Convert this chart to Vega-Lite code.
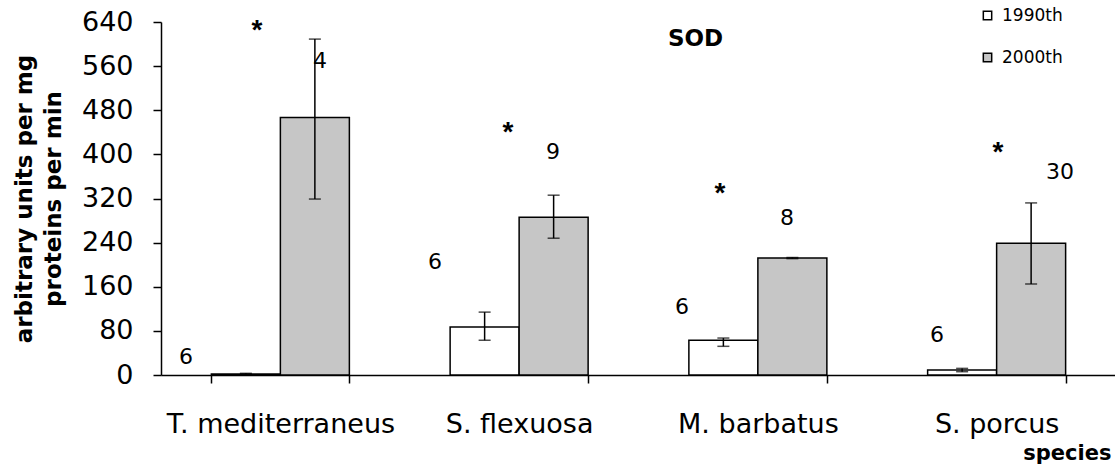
{
  "$schema": "https://vega.github.io/schema/vega-lite/v6.json",
  "autosize": "none",
  "padding": {"left": 161, "top": 22, "right": 0, "bottom": 95},
  "width": 955,
  "height": 353,
  "background": "white",
  "config": {
    "font": "DejaVu Sans",
    "view": {"stroke": null},
    "axis": {"grid": false, "domainColor": "black", "tickColor": "black", "labelColor": "black", "titleColor": "black", "domainWidth": 1.5, "tickWidth": 1.5, "labelFont": "DejaVu Sans", "titleFont": "DejaVu Sans"},
    "legend": {"labelFont": "DejaVu Sans"},
    "title": {"font": "DejaVu Sans"}
  },
  "title": {"text": "SOD", "fontSize": 23, "fontWeight": "bold", "anchor": "middle", "frame": "group", "dx": 57, "offset": -44, "color": "black"},
  "datasets": {
    "bars": [
      {"species": "T. mediterraneus", "group": "1990th", "value": 2, "lo": 1, "hi": 3},
      {"species": "T. mediterraneus", "group": "2000th", "value": 467, "lo": 319, "hi": 609},
      {"species": "S. flexuosa", "group": "1990th", "value": 87, "lo": 63, "hi": 114},
      {"species": "S. flexuosa", "group": "2000th", "value": 286, "lo": 248, "hi": 326},
      {"species": "M. barbatus", "group": "1990th", "value": 63, "lo": 52, "hi": 67},
      {"species": "M. barbatus", "group": "2000th", "value": 212, "lo": 211, "hi": 213},
      {"species": "S.  porcus", "group": "1990th", "value": 9, "lo": 6, "hi": 12},
      {"species": "S.  porcus", "group": "2000th", "value": 239, "lo": 165, "hi": 312}
    ],
    "notes": [
      {"pos": 0.105, "y": 33, "label": "6", "kind": "n"},
      {"pos": 0.666, "y": 569, "label": "4", "kind": "n"},
      {"pos": 0.402, "y": 636, "label": "*", "kind": "star"},
      {"pos": 1.148, "y": 205, "label": "6", "kind": "n"},
      {"pos": 1.642, "y": 404, "label": "9", "kind": "n"},
      {"pos": 1.453, "y": 452, "label": "*", "kind": "star"},
      {"pos": 2.182, "y": 123, "label": "6", "kind": "n"},
      {"pos": 2.622, "y": 285, "label": "8", "kind": "n"},
      {"pos": 2.341, "y": 340, "label": "*", "kind": "star"},
      {"pos": 3.25, "y": 72, "label": "6", "kind": "n"},
      {"pos": 3.765, "y": 368, "label": "30", "kind": "n"},
      {"pos": 3.506, "y": 415, "label": "*", "kind": "star"}
    ]
  },
  "layer": [
    {
      "data": {"name": "bars"},
      "layer": [
        {
          "mark": {"type": "bar", "stroke": "black", "strokeWidth": 1.5},
          "encoding": {
            "x": {"field": "species", "type": "nominal", "sort": null,
              "scale": {"paddingInner": 0.422, "paddingOuter": 0.211},
              "axis": {"title": "species", "titleFontSize": 21, "titleFontWeight": "bold", "titleAnchor": "end", "titlePadding": 0, "titleX": 950, "titleY": 67, "titleAlign": "right", "labelFontSize": 27, "labelAngle": 0, "labelLimit": 0, "tickBand": "extent", "tickSize": 8, "labelPadding": 28, "labelBaseline": "top"}},
            "xOffset": {"field": "group", "type": "nominal", "scale": {"domain": ["1990th", "2000th"], "paddingInner": 0, "paddingOuter": 0}},
            "y": {"field": "value", "type": "quantitative",
              "scale": {"domain": [0, 640], "nice": false},
              "axis": {"values": [0, 80, 160, 240, 320, 400, 480, 560, 640], "labelFontSize": 27, "tickSize": 8, "labelPadding": 20, "title": ["arbitrary units per mg", "proteins per min"], "titleFontSize": 23, "titleFontWeight": "bold", "titlePadding": 16, "titleLineHeight": 29}},
            "fill": {"field": "group", "type": "nominal",
              "scale": {"domain": ["1990th", "2000th"], "range": ["#ffffff", "#c6c6c6"]},
              "legend": {"title": null, "orient": "none", "legendX": 818, "legendY": -15, "symbolType": "square", "symbolSize": 70, "symbolStrokeColor": "black", "symbolStrokeWidth": 1.5, "labelFontSize": 17, "labelColor": "black", "rowPadding": 24, "labelOffset": 6}}
          }
        },
        {
          "mark": {"type": "rule", "color": "black", "strokeWidth": 1.5},
          "encoding": {
            "x": {"field": "species", "type": "nominal", "sort": null},
            "xOffset": {"field": "group", "type": "nominal"},
            "y": {"field": "lo", "type": "quantitative"},
            "y2": {"field": "hi"}
          }
        },
        {
          "mark": {"type": "tick", "color": "black", "thickness": 1.5, "size": 12},
          "encoding": {
            "x": {"field": "species", "type": "nominal", "sort": null},
            "xOffset": {"field": "group", "type": "nominal"},
            "y": {"field": "lo", "type": "quantitative"}
          }
        },
        {
          "mark": {"type": "tick", "color": "black", "thickness": 1.5, "size": 12},
          "encoding": {
            "x": {"field": "species", "type": "nominal", "sort": null},
            "xOffset": {"field": "group", "type": "nominal"},
            "y": {"field": "hi", "type": "quantitative"}
          }
        }
      ]
    },
    {
      "data": {"name": "notes"},
      "layer": [
        {
          "transform": [{"filter": "datum.kind === 'n'"}],
          "mark": {"type": "text", "fontSize": 22, "color": "black", "baseline": "middle", "align": "center", "font": "DejaVu Sans"},
          "encoding": {
            "x": {"field": "pos", "type": "quantitative", "scale": {"domain": [0, 4], "nice": false}, "axis": null},
            "y": {"field": "y", "type": "quantitative"},
            "text": {"field": "label"}
          }
        },
        {
          "transform": [{"filter": "datum.kind === 'star'"}],
          "mark": {"type": "text", "fontSize": 28, "fontWeight": "bold", "color": "black", "baseline": "middle", "align": "center", "dy": 7, "font": "Liberation Sans"},
          "encoding": {
            "x": {"field": "pos", "type": "quantitative", "scale": {"domain": [0, 4], "nice": false}, "axis": null},
            "y": {"field": "y", "type": "quantitative"},
            "text": {"field": "label"}
          }
        }
      ]
    }
  ],
  "resolve": {"scale": {"x": "independent"}}
}
